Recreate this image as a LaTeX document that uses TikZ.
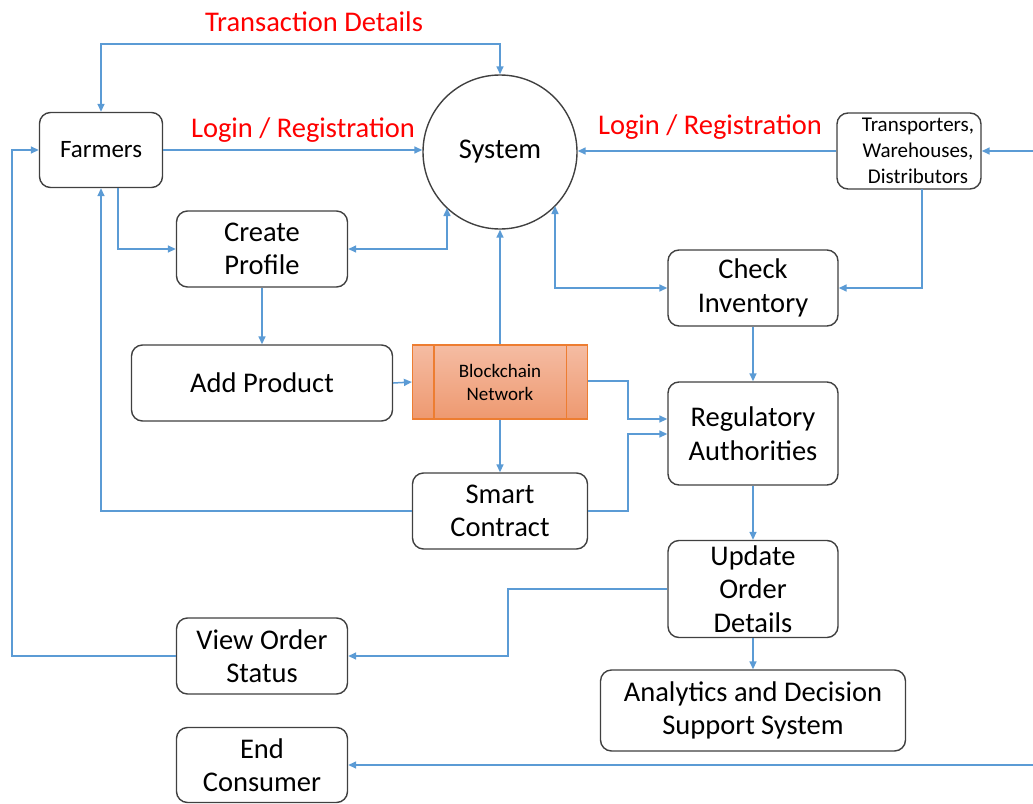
\documentclass[tikz,border=0pt]{standalone}
\usepackage{fontspec}
\setmainfont{Carlito}
\usetikzlibrary{arrows.meta}
\definecolor{lnblue}{HTML}{5B9BD5}
\definecolor{bxgray}{HTML}{404040}
\definecolor{lblred}{HTML}{FF0000}
\definecolor{orgline}{HTML}{ED7D31}
\definecolor{orgtop}{HTML}{F5BCA3}
\definecolor{orgbot}{HTML}{EE9970}
\tikzset{
  box/.style={draw=bxgray, line width=1.4pt, rounded corners=11pt, fill=white, inner sep=0pt, align=center},
  flow/.style={draw=lnblue, line width=1.5pt, -{Triangle[length=8pt,width=7pt]}},
  flow2/.style={draw=lnblue, line width=1.5pt, {Triangle[length=8pt,width=7pt]}-{Triangle[length=8pt,width=7pt]}},
  lbl/.style={text=lblred, font=\fontsize{28.5}{32}\selectfont, inner sep=0pt},
  big/.style={font=\fontsize{28.5}{33.5}\selectfont}
}
\begin{document}
\begin{tikzpicture}[x=1pt,y=-1pt]
\useasboundingbox (0,0) rectangle (1033,803);

% nodes
\node[box, minimum width=123pt, minimum height=75pt, font=\fontsize{25}{28}\selectfont] (farm) at (101,150) {Farmers};
\node[draw=bxgray, line width=1.4pt, circle, minimum size=154pt, inner sep=0pt, font=\fontsize{28.5}{32}\selectfont] (sys) at (500,152) {System};
\node[box, minimum width=144pt, minimum height=76pt] (trans) at (909,151) {};
\node[inner sep=0pt, align=center, font=\fontsize{21}{26}\selectfont] (transtxt) at (918,151) {Transporters,\\Warehouses,\\Distributors};
\node[box, minimum width=171pt, minimum height=76pt, big] (prof) at (262,249) {Create\\Profile};
\node[box, minimum width=170pt, minimum height=76pt, big] (inv) at (753,288) {Check\\Inventory};
\node[box, minimum width=261pt, minimum height=76pt, font=\fontsize{28.5}{32}\selectfont] (prod) at (262,383) {Add Product};
\node[draw=orgline, line width=1.2pt, top color=orgtop, bottom color=orgbot, minimum width=175pt, minimum height=74pt, inner sep=0pt, align=center, font=\fontsize{19}{23}\selectfont] (bc) at (500,382) {Blockchain\\Network};
\draw[orgline, line width=1.2pt] ([xshift=22pt]bc.north west) -- ([xshift=22pt]bc.south west);
\draw[orgline, line width=1.2pt] ([xshift=-22pt]bc.north east) -- ([xshift=-22pt]bc.south east);
\node[box, minimum width=170pt, minimum height=103pt, big] (reg) at (753,433.5) {Regulatory\\Authorities};
\node[box, minimum width=175pt, minimum height=76pt, big] (sc) at (500,511) {Smart\\Contract};
\node[box, minimum width=170pt, minimum height=97pt, big] (upd) at (753,589) {Update\\Order\\Details};
\node[box, minimum width=171pt, minimum height=76pt, big] (view) at (262,656) {View Order\\Status};
\node[box, minimum width=305pt, minimum height=81pt, big] (ana) at (753,710.5) {Analytics and Decision\\Support System};
\node[box, minimum width=171pt, minimum height=75pt, big] (endc) at (262,765) {End\\Consumer};

% coordinates for free ends
\coordinate (rightA) at (1033,151);
\coordinate (rightB) at (1033,765);

% connectors
\draw[flow2] (farm.north) -- (101,44) -- (500,44) -- (sys.north);
\node[lbl] (tdl) at (314,22) {Transaction Details};

\draw[flow] (farm.east) -- (sys.west |- farm.east);
\node[lbl] (lr1) at (303,130) {Login / Registration};

\draw[flow] (trans.west) -- (sys.east |- trans.west);
\node[lbl] (lr2) at (710,127) {Login / Registration};

\draw[flow] (rightA) -- (trans.east);

\draw[flow] (view.west) -- (12,656) -- (12,150) -- (farm.west);

\draw[flow] (118,188) -- (118,249) -- (prof.west);

\draw[flow2] (prof.east) -- (447,249) -- (447,208);

\draw[flow] (prof.south) -- (prod.north);
\draw[flow] (prod.east) -- (bc.west);
\draw[flow] (bc.north) -- (sys.south);
\draw[flow] (bc.south) -- (sc.north);

\draw[flow] (588,381) -- (628,381) -- (628,419) -- (reg.west |- 0,419);
\draw[flow] (sc.east) -- (628,511) -- (628,434) -- (reg.west |- 0,434);

\draw[flow] (sc.west) -- (101,511) -- (farm.south);

\draw[flow2] (555,206) -- (555,288) -- (inv.west);

\draw[flow] (922,189) -- (922,288) -- (inv.east);

\draw[flow] (inv.south) -- (reg.north);
\draw[flow] (reg.south) -- (upd.north);
\draw[flow] (upd.west) -- (508,589) -- (508,656) -- (view.east);
\draw[flow] (upd.south) -- (ana.north);
\draw[flow] (rightB) -- (endc.east);
\end{tikzpicture}
\end{document}
